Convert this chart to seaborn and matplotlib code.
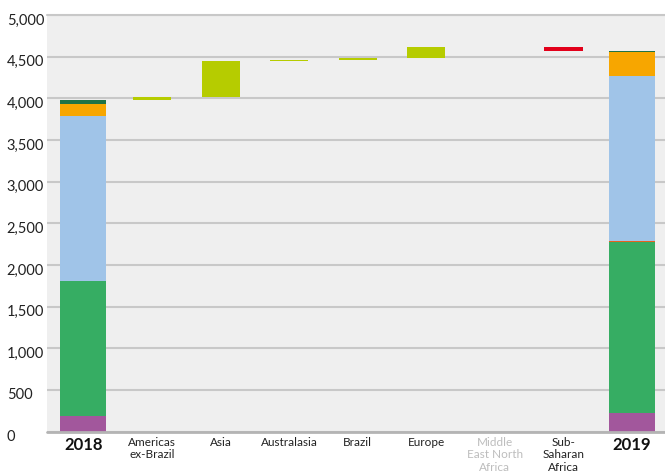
import matplotlib
matplotlib.use("Agg")
import matplotlib.pyplot as plt
import matplotlib.transforms as mtransforms
import numpy as np
import pandas as pd
import seaborn as sns

# Category axis: opening year, regional changes, closing year
categories = ["2018", "Americas\nex-Brazil", "Asia", "Australasia", "Brazil",
              "Europe", "Middle\nEast North\nAfrica", "Sub-\nSaharan\nAfrica", "2019"]
regions = categories[1:-1]

# Regional changes between the two years
changes = [35, 430, 10, 25, 140, 0, -50]

# Stacked components of each year's total (bottom to top)
segment_colors = ["#a2579c", "#36ad63", "#e8611f", "#a0c4e8", "#f7a600", "#1f7346"]
values_2018 = [190, 1615, 0, 1985, 140, 50]
values_2019 = [220, 2055, 8, 1990, 285, 12]

y_ticks = [0, 500, 1000, 1500, 2000, 2500, 3000, 3500, 4000, 4500, 5000]

increase_color = "#b6cc00"
decrease_color = "#e2001a"

sns.set_theme(style="whitegrid")
plt.rcParams["font.family"] = ["Lato", "DejaVu Sans"]

fig = plt.figure(figsize=(6.65, 4.74), dpi=100)
ax = fig.add_axes([47 / 665, 1 - 431.5 / 474, 1 - 47 / 665, (431.5 - 15) / 474])
ax.set_facecolor("#efefef")

# Opening and closing totals as stacked bars
for year, vals in (("2018", values_2018), ("2019", values_2019)):
    bottoms = np.concatenate([[0], np.cumsum(vals)[:-1]])
    for val, bot, col in zip(vals, bottoms, segment_colors):
        if val == 0:
            continue
        df = pd.DataFrame({"cat": [year], "val": [val]})
        sns.barplot(data=df, x="cat", y="val", order=categories, color=col,
                    saturation=1, width=0.67, bottom=[bot], linewidth=0,
                    errorbar=None, ax=ax)

# Floating bars for the regional changes
running = sum(values_2018)
for region, delta in zip(regions, changes):
    if delta != 0:
        df = pd.DataFrame({"cat": [region], "val": [abs(delta)]})
        base = running if delta > 0 else running + delta
        col = increase_color if delta > 0 else decrease_color
        sns.barplot(data=df, x="cat", y="val", order=categories, color=col,
                    saturation=1, width=0.555, bottom=[base], linewidth=0,
                    errorbar=None, ax=ax)
    running += delta

ax.set_xlim(-0.53, 8.48)
ax.set_ylim(0, 5000)
ax.set_xlabel("")
ax.set_ylabel("")
for s in ax.spines.values():
    s.set_visible(False)

ax.grid(False, axis="x")
ax.grid(True, axis="y", color="#c8c8c8", linewidth=1.5)
ax.axhline(5000, color="#c8c8c8", linewidth=1.5, clip_on=False, zorder=0.5)
ax.axhline(0, color="#b4b4b4", linewidth=2, clip_on=False, zorder=3)

ax.set_yticks(y_ticks)
ax.set_yticklabels([f"{t:,}" for t in y_ticks], ha="left", fontsize=10.5,
                   color="#222222")
ax.tick_params(axis="y", length=0, pad=29)
shift = mtransforms.ScaledTranslation(0, -4 / 100, fig.dpi_scale_trans)
for lab in ax.get_yticklabels():
    lab.set_transform(lab.get_transform() + shift)

ax.set_xticks(range(len(categories)))
ax.set_xticklabels(categories, fontsize=8.5, color="#222222", linespacing=1.15)
ax.tick_params(axis="x", length=0, pad=4)
for lab in ax.get_xticklabels():
    txt = lab.get_text()
    if txt in ("2018", "2019"):
        lab.set_fontsize(12)
        lab.set_fontweight("bold")
        lab.set_color("#111111")
    elif txt.startswith("Middle"):
        lab.set_color("#bdbdbd")

fig.savefig("out.png", dpi=100)
